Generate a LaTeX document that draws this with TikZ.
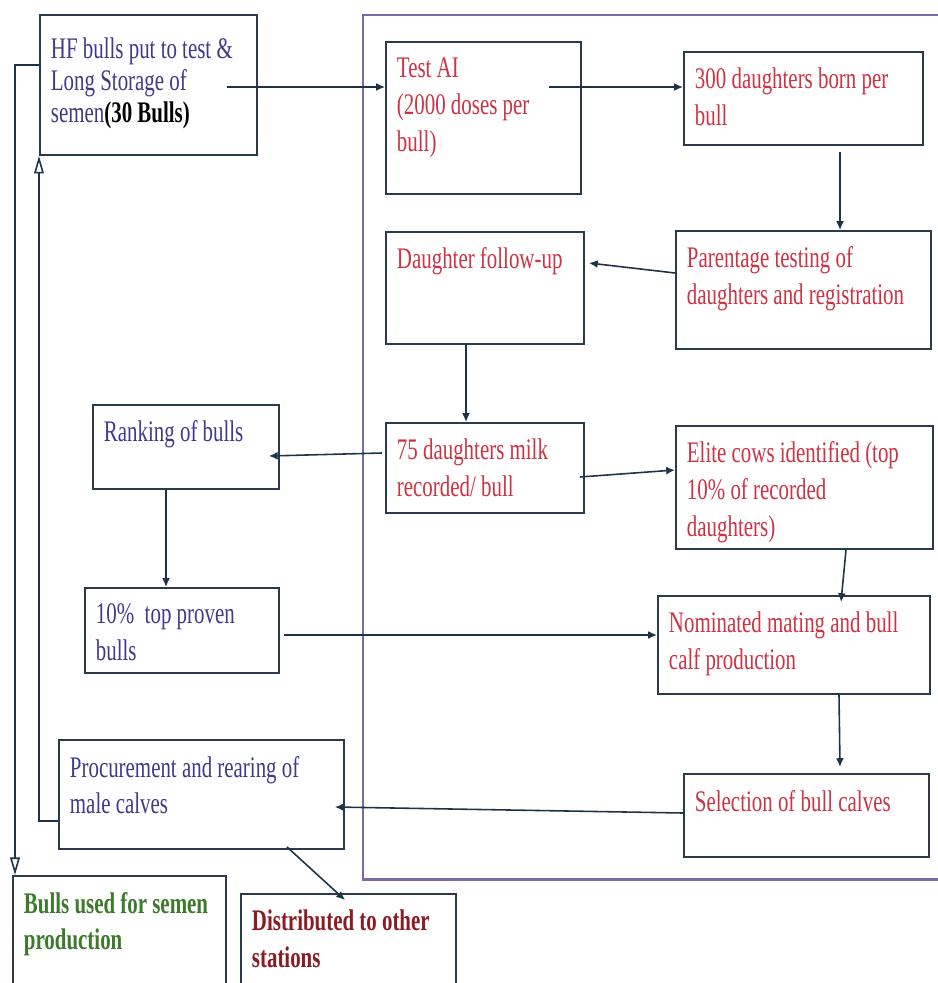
\documentclass[tikz,border=0pt]{standalone}
\usepackage{fontspec}
\setmainfont{Liberation Serif}[FakeStretch=0.70]
\usetikzlibrary{arrows.meta,calc}

\definecolor{boxline}{HTML}{2B3A4A}
\definecolor{arrline}{HTML}{1E3348}
\definecolor{bluetext}{HTML}{3F3B8C}
\definecolor{redtext}{HTML}{CC3344}
\definecolor{greentext}{HTML}{3D7A2C}
\definecolor{darkredtext}{HTML}{8A1C24}
\definecolor{framecol}{HTML}{7A68A8}

\tikzset{
  box/.style={draw=boxline, line width=1.1pt, shape=rectangle, fill=white,
    anchor=north west, inner xsep=0.22cm, inner ysep=0.32cm,
    font=\fontsize{17}{21}\selectfont},
  arr/.style={draw=arrline, line width=0.9pt, -{Latex[length=5pt,width=4.5pt]}},
  fb/.style={draw=arrline, line width=0.9pt, -{Triangle[open,length=10pt,width=5.5pt]}}
}

\begin{document}
\begin{tikzpicture}[x=0.02cm,y=-0.02cm]
   \useasboundingbox[fill=white] (0,0) rectangle (937,983);

   % frame round the progeny testing part
   \draw[framecol, line width=1.7pt] (960,15) -- (363,15) -- (363,879) -- (960,879);

   \path (39,14) node[box,inner ysep=0.45cm] (HF)
   {\parbox[t][1.90cm][t]{3.90cm}{\fontsize{17}{18.2}\selectfont\color{bluetext}HF bulls put to test \&\\
     Long Storage of\\ semen\textcolor{black}{\textbf{(30 Bulls)}}}};

   \path (385,41) node[box] (TestAI)
   {\parbox[t][2.40cm][t]{3.46cm}{\color{redtext}Test AI\\ (2000 doses per\\ bull)}};

   \path (683,51) node[box] (S300)
   {\parbox[t][1.22cm][t]{4.34cm}{\color{redtext}300 daughters born per\\ bull}};

   \path (675,230) node[box] (Parent)
   {\parbox[t][1.72cm][t]{4.66cm}{\color{redtext}Parentage testing of\\ daughters and registration}};

   \path (385,231) node[box] (Follow)
   {\parbox[t][1.60cm][t]{3.52cm}{\color{redtext}Daughter follow-up}};

   \path (385,422) node[box] (D75)
   {\parbox[t][1.16cm][t]{3.52cm}{\color{redtext}75 daughters milk\\ recorded/ bull}};

   \path (92,404) node[box] (Rank)
   {\parbox[t][1.04cm][t]{3.28cm}{\color{bluetext}Ranking of bulls}};

   \path (84,587) node[box] (Top10)
   {\parbox[t][1.06cm][t]{3.44cm}{\color{bluetext}10\%\ \ top proven\\ bulls}};

   \path (675,425) node[box] (Elite)
   {\parbox[t][1.82cm][t]{4.70cm}{\color{redtext}Elite cows identified (top\\ 10\% of recorded\\ daughters)}};

   \path (657,595) node[box] (Nomin)
   {\parbox[t][1.32cm][t]{5.00cm}{\color{redtext}Nominated mating and bull\\ calf production}};

   \path (683,773) node[box] (Select)
   {\parbox[t][1.02cm][t]{4.46cm}{\color{redtext}Selection of bull calves}};

   \path (58,739) node[box] (Procure)
   {\parbox[t][1.54cm][t]{5.26cm}{\color{bluetext}Procurement and rearing of\\ male calves}};

   \path (12,875) node[box] (Bulls)
   {\parbox[t][1.76cm][t]{3.82cm}{\bfseries\color{greentext}Bulls used for semen\\ production}};

   \path (240,893) node[box] (Distrib)
   {\parbox[t][1.40cm][t]{3.86cm}{\bfseries\color{darkredtext}Distributed to other\\ stations}};

   % arrows
   \draw[arr] ($(HF.north east)+(-31,73)$) -- ($(TestAI.north west)+(0,46)$);
   \draw[arr] ($(TestAI.north east)+(-33,46)$) -- ($(S300.north west)+(0,36)$);
   \draw[arr] ($(S300.south west)+(157,6)$) -- ($(Parent.north west)+(165,0)$);
   \draw[arr] ($(Parent.north west)+(0,43)$) -- ($(Follow.north east)+(4,32)$);
   \draw[arr] ($(Follow.south west)+(81,0)$) -- ($(D75.north west)+(81,0)$);
   \draw[arr] ($(D75.north west)+(-3,31)$) -- ($(Rank.north east)+(-11,52)$);
   \draw[arr] ($(D75.north east)+(-5,55)$) -- ($(Elite.north west)+(0,45)$);
   \draw[arr] ($(Rank.south west)+(74,0)$) -- ($(Top10.north west)+(82,0)$);
   \draw[arr] ($(Top10.north east)+(4,48)$) -- ($(Nomin.north west)+(0,40)$);
   \draw[arr] ($(Elite.south west)+(171,0)$) -- ($(Nomin.north west)+(184,7)$);
   \draw[arr] ($(Nomin.south west)+(182,0)$) -- ($(Select.north west)+(157,-6)$);
   \draw[arr] ($(Select.north west)+(0,40)$) -- ($(Procure.north east)+(-10,68)$);
   \draw[arr] ($(Procure.south west)+(229,-3)$) -- ($(Distrib.north west)+(105,7)$);
   \draw[fb] ($(Procure.north west)+(0,82)$) -| (HF.south west);
   \draw[fb] ($(HF.north west)+(0,51)$) -| ($(Bulls.north west)+(3,0)$);
\end{tikzpicture}
\end{document}
